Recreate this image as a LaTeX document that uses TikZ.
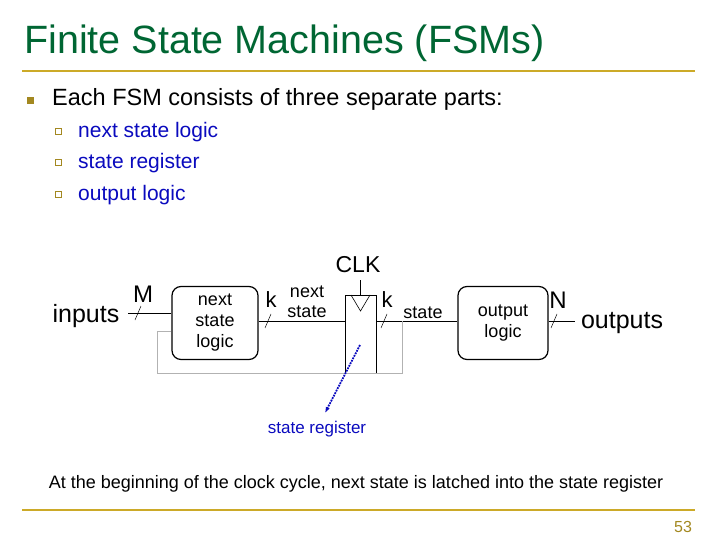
\documentclass[tikz,border=0pt]{standalone}
\usepackage{fontspec}
\setmainfont{Liberation Sans}
\usetikzlibrary{arrows.meta}
\definecolor{ttl}{RGB}{0,102,51}
\definecolor{gold}{RGB}{204,170,40}
\definecolor{blu}{RGB}{10,10,190}
\begin{document}
\begin{tikzpicture}[x=1pt,y=-1pt,
  blk/.style={draw,very thick,rounded corners=9pt,align=center,font=\fontsize{18}{21}\selectfont,inner sep=0},
  lbl/.style={inner sep=0,anchor=base west},
  wire/.style={line width=0.8pt},
  fb/.style={line width=1pt,gray!60},
  sl/.style={line width=0.5pt}]
\useasboundingbox (0,0) rectangle (720,540);
\node[lbl,text=ttl,font=\fontsize{39.5}{42}\selectfont] (title) at (24,54) {Finite State Machines (FSMs)};
\draw[gold,line width=2.5pt] (22,71) -- (695,71);
\fill[gold!80!black] (27,97) rectangle (34,104);
\node[lbl,font=\fontsize{23.5}{26}\selectfont] (b1) at (52,106) {Each FSM consists of three separate parts:};
\foreach \yy/\t/\n in {131/next state logic/s1,162/state register/s2,194/output logic/s3}{
  \draw[gold!80!black,line width=0.8pt] (55,\yy-3) rectangle (61,\yy+3);
  \node[lbl,text=blu,font=\fontsize{21}{24}\selectfont] (\n) at (78,\yy+7) {\t};
}
% blocks
\node[blk,minimum width=86,minimum height=73] (nsl) at (215,323) {next\\state\\logic};
\node[blk,minimum width=90,minimum height=73] (ol) at (503,323) {output\\logic};
\node[draw,line width=0.6pt,minimum width=31,minimum height=78,inner sep=0] (reg) at (360.5,334) {};
\coordinate (tl) at (351,295); \coordinate (tr) at (370,295); \coordinate (tb) at (360.5,311);
\draw[line width=0.6pt] (tl) -- (tb) -- (tr);
\node[font=\fontsize{23}{25}\selectfont,inner sep=0] (clk) at (358,265) {CLK};
\coordinate (ck) at (360.5,280);
\draw[line width=0.6pt] (ck) -- (reg.north);
% wires
\coordinate (in) at (128,313);
\draw[wire] (in) -- (nsl.west |- in);
\coordinate (w1) at (258,321);
\draw[wire] (nsl.east |- w1) -- (reg.west |- w1);
\draw[wire] (reg.east |- w1) -- (ol.west |- w1);
\coordinate (out) at (575,321);
\draw[wire] (ol.east |- out) -- (out);
\coordinate (fb1) at (402,321); \coordinate (fb2) at (402,373);
\coordinate (fb3) at (157,373); \coordinate (fb4) at (157,331);
\draw[fb] (fb1) -- (fb2) -- (fb3) -- (fb4) -- (nsl.west |- fb4);
% slashes
\foreach \x/\y in {138/313,268/321,384/321,554/321}{\draw[sl] (\x-3,\y+7) -- (\x+3,\y-7);}
\node[font=\fontsize{25}{27}\selectfont,inner sep=0] (inputs) at (86,316) {inputs};
\node[font=\fontsize{24}{26}\selectfont,inner sep=0] (M) at (143,294) {M};
\node[font=\fontsize{22}{24}\selectfont,inner sep=0] (k1) at (271,300) {k};
\node[font=\fontsize{22}{24}\selectfont,inner sep=0] (k2) at (387,300) {k};
\node[font=\fontsize{24}{26}\selectfont,inner sep=0] (N) at (558,300) {N};
\node[font=\fontsize{25}{27}\selectfont,inner sep=0] (outputs) at (622,323) {outputs};
\node[font=\fontsize{18}{20}\selectfont,align=center,inner sep=0] (ns) at (307,302) {next\\state};
\node[font=\fontsize{18}{20}\selectfont,inner sep=0] (st) at (423,313) {state};
% state register label
\node[text=blu,font=\fontsize{17}{19}\selectfont,inner sep=0] (srl) at (317,429) {state register};
\coordinate (as) at (360,345);
\draw[blu,line width=1.8pt,densely dotted,-{Latex[length=6pt]}] (as) -- (325,413);
\node[font=\fontsize{18}{20}\selectfont,inner sep=0] (bt) at (356,484) {At the beginning of the clock cycle, next state is latched into the state register};
\draw[gold,line width=2.5pt] (22,510) -- (695,510);
\node[text=gold!80!black,font=\fontsize{16}{18}\selectfont,inner sep=0] (pg) at (683,527) {53};
\end{tikzpicture}
\end{document}
